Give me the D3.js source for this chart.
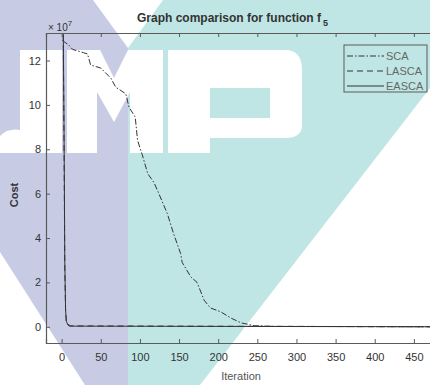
<!DOCTYPE html>
<html>
<head>
<meta charset="utf-8">
<script src="https://cdn.jsdelivr.net/npm/d3@7"></script>
<style>
  body { margin: 0; background: #fff; }
  svg { display: block; font-family: "Liberation Sans", Arial, sans-serif; }
</style>
</head>
<body>
<svg id="chart" width="430" height="385"></svg>
<script>
// datos (coste en unidades de 1e7)
const xTicks = [0, 50, 100, 150, 200, 250, 300, 350, 400, 450];
const yTicks = [0, 2, 4, 6, 8, 10, 12];
const seriesNames = ['SCA', 'LASCA', 'EASCA'];

const scaIter = [1, 9, 14, 28, 33, 37, 50, 63, 69, 82, 86, 94, 97, 103, 110, 118, 126, 135, 143, 152, 154, 165, 173, 182, 190, 203, 216, 229, 246, 270, 500];
const scaCost = [12.9, 12.7, 12.5, 12.35, 12.3, 11.8, 11.66, 11.2, 10.8, 10.5, 9.9, 9.45, 8.4, 7.75, 6.9, 6.5, 5.85, 5.1, 4.2, 3.3, 2.9, 2.25, 2.0, 1.2, 0.85, 0.68, 0.4, 0.18, 0.05, 0.02, 0.0];

const lascaIter = [1, 2, 3, 4, 5, 6, 8, 12, 500];
const lascaCost = [14.5, 13.2, 8.5, 2.6, 0.7, 0.2, 0.1, 0.04, 0.0];

const eascaIter = [1, 2, 3, 4, 5, 6, 8, 10, 500];
const eascaCost = [15, 13.6, 9.2, 3.0, 0.8, 0.25, 0.08, 0.03, 0.0];

const svg = d3.select('#chart');

// marca de agua de fondo (aprox.)
const wm = svg.append('g');
wm.append('polygon').attr('points', '0,0 128,0 128,385 85,385 0,252').attr('fill', '#c7cce4');
wm.append('polygon').attr('points', '128,0 430,0 430,88 200,385 128,385').attr('fill', '#bfe6e5');
wm.append('polygon').attr('points', '93,0 163,0 128,48').attr('fill', '#fff');
// letras J M P
const letra = '#ffffff';
wm.append('path').attr('fill', letra)
  .attr('d', 'M20,50 H62 V153 H0 V136 Q8,128 20,130 Z');
wm.append('path').attr('fill', letra)
  .attr('d', 'M67,50 H100 L114,78 L128,50 H163 V153 H130 V92 L114,122 L97,92 V153 H67 Z');
wm.append('path').attr('fill', letra).attr('fill-rule', 'evenodd')
  .attr('d', 'M168,50 H285 Q302,50 302,70 V125 Q302,138 285,138 H210 V153 H168 Z M210,88 V118 H270 V88 Z');

// escalas
const x = d3.scaleLinear().domain([-20, 500]).range([46, 453]);
const y = d3.scaleLinear().domain([-0.73, 13.24]).range([343, 33]);

const ink = '#333';
const axisCol = '#5a5a5a';

svg.append('defs').append('clipPath').attr('id', 'clip')
  .append('rect').attr('x', 46).attr('y', 33).attr('width', 407).attr('height', 310);

// lineas
const line = d3.line().x(d => x(d[0])).y(d => y(d[1]));
const plot = svg.append('g').attr('clip-path', 'url(#clip)');
const series = [
  { name: 'SCA', iter: scaIter, cost: scaCost, dash: '6,2,1.5,2' },
  { name: 'LASCA', iter: lascaIter, cost: lascaCost, dash: '6,4' },
  { name: 'EASCA', iter: eascaIter, cost: eascaCost, dash: null }
];
series.forEach(s => {
  plot.append('path')
    .datum(s.iter.map((v, i) => [v, s.cost[i]]))
    .attr('d', line)
    .attr('fill', 'none')
    .attr('stroke', ink)
    .attr('stroke-width', 1)
    .attr('stroke-dasharray', s.dash);
});

// ejes (caja estilo MATLAB)
const xB = svg.append('g').attr('transform', 'translate(0,343)')
  .call(d3.axisBottom(x).tickValues(xTicks).tickSize(-4).tickPadding(10).tickFormat(d3.format('d')));
const xT = svg.append('g').attr('transform', 'translate(0,33)')
  .call(d3.axisTop(x).tickValues(xTicks).tickSize(-4).tickFormat(''));
const yL = svg.append('g').attr('transform', 'translate(46,0)')
  .call(d3.axisLeft(y).tickValues(yTicks).tickSize(-4).tickPadding(5));
[xB, xT, yL].forEach(g => {
  g.select('.domain').attr('stroke', axisCol).attr('stroke-width', 1.2);
  g.selectAll('.tick line').attr('stroke', axisCol);
  g.selectAll('text').attr('fill', ink).attr('font-size', 11).attr('font-family', '"Liberation Sans", Arial, sans-serif');
});

// multiplicador
const mult = svg.append('text').attr('x', 48).attr('y', 31).attr('font-size', 10).attr('fill', ink);
mult.append('tspan').text('\u00d7 10');
mult.append('tspan').attr('dy', -5).attr('font-size', 8).text('7');

// titulo
const title = svg.append('text').attr('x', 137).attr('y', 22)
  .attr('font-size', 12).attr('font-weight', 'bold').attr('fill', ink);
title.append('tspan').text('Graph comparison for function f');
title.append('tspan').attr('dy', 4).attr('dx', 2).attr('font-size', 9).text('5');

svg.append('text').attr('x', 241).attr('y', 380).attr('text-anchor', 'middle')
  .attr('font-size', 11).attr('fill', '#555').text('Iteration');
svg.append('text').attr('transform', 'translate(18,195) rotate(-90)').attr('text-anchor', 'middle')
  .attr('font-size', 11).attr('font-weight', 'bold').attr('fill', ink).text('Cost');

// leyenda
const leg = svg.append('g');
leg.append('rect').attr('x', 344).attr('y', 45).attr('width', 83).attr('height', 47)
  .attr('fill', 'none').attr('stroke', axisCol).attr('stroke-width', 1);
series.forEach((s, i) => {
  const ly = 56 + i * 15;
  leg.append('line').attr('x1', 347).attr('x2', 384).attr('y1', ly).attr('y2', ly)
    .attr('stroke', ink).attr('stroke-width', 1).attr('stroke-dasharray', s.dash);
  leg.append('text').attr('x', 386).attr('y', ly + 4).attr('font-size', 11)
    .attr('fill', '#666').text(seriesNames[i]);
});
</script>
</body>
</html>
